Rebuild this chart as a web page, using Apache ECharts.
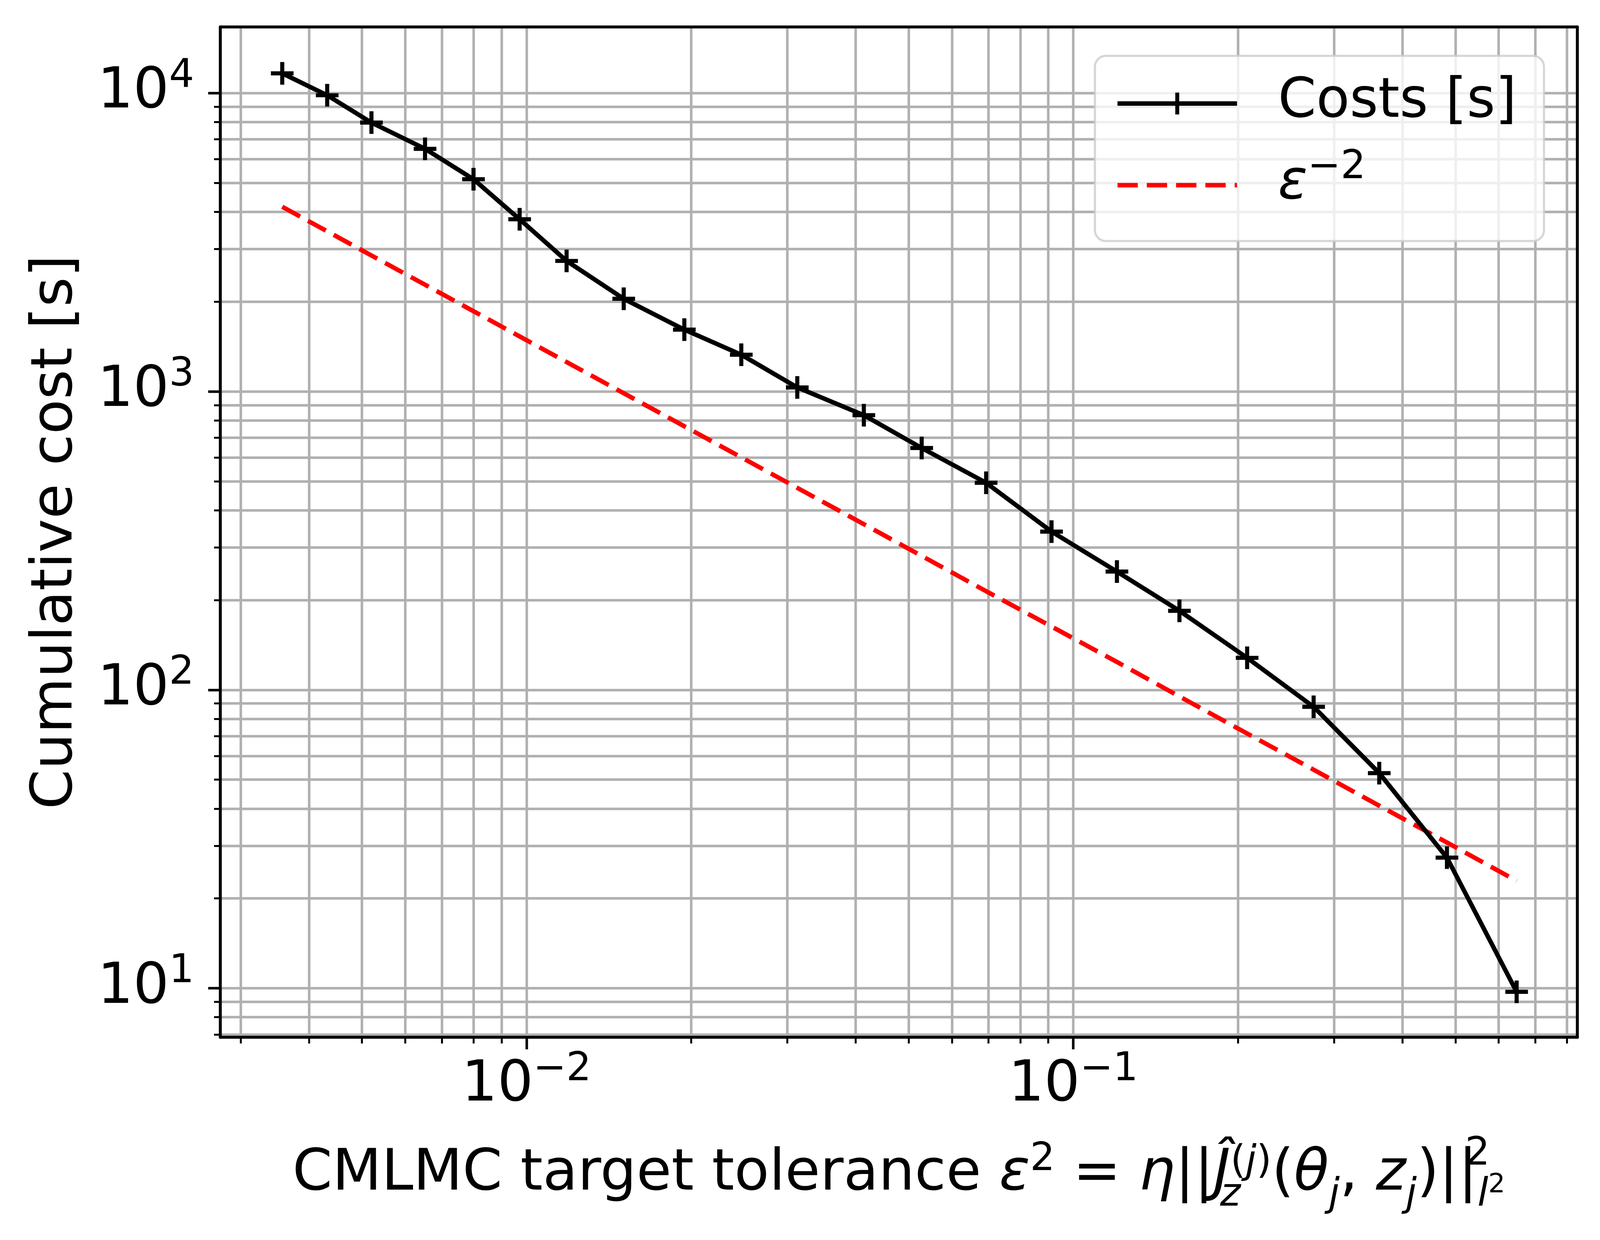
<!DOCTYPE html>
<html>
<head>
<meta charset="utf-8">
<script src="https://cdn.jsdelivr.net/npm/echarts@6/dist/echarts.min.js"></script>
<style>
html, body { margin: 0; padding: 0; background: #fff; }
#chart { width: 4108px; height: 3174px; }
</style>
</head>
<body>
<div id="chart"></div>
<script>
// values (log-log plot)
var tolerance = [0.003575, 0.004320, 0.005205, 0.006523, 0.008000, 0.009716, 0.01184, 0.01506,
    0.01944, 0.02471, 0.03128, 0.04140, 0.05282, 0.06929, 0.09126, 0.1202, 0.1564, 0.2080,
    0.2752, 0.3628, 0.4825, 0.6471];
var costs = [11630, 9820, 7953, 6497, 5137, 3772, 2736, 2043, 1610, 1327, 1031, 832, 646, 494,
    339, 249, 184, 128, 87.7, 52.6, 27.4, 9.73];
var epsRef = [4154, 3438, 2853, 2277, 1856, 1528, 1254, 986, 764, 601, 475, 359, 281, 214,
    163, 124, 95.0, 71.4, 54.0, 40.9, 30.8, 22.9];

// tick positions
var xMajor = [0.01, 0.1];
var xMinor = [0.003, 0.004, 0.005, 0.006, 0.007, 0.008, 0.009,
    0.02, 0.03, 0.04, 0.05, 0.06, 0.07, 0.08, 0.09,
    0.2, 0.3, 0.4, 0.5, 0.6, 0.7, 0.8];
var yMajor = [10, 100, 1000, 10000];
var yMinor = [7, 8, 9, 20, 30, 40, 50, 60, 70, 80, 90, 200, 300, 400, 500, 600, 700, 800, 900,
    2000, 3000, 4000, 5000, 6000, 7000, 8000, 9000];

var FONT = 'DejaVu Sans';
var GRID_COLOR = '#b0b0b0';
var plusPath = 'path://M41,0H59V41H100V59H59V100H41V59H0V41H41Z';

function lg(v) { return Math.log10(v); }
function pairs(xs, ys) {
    return xs.map(function (x, i) { return [lg(x), lg(ys[i])]; });
}
function powLabel(v) {
    var e = Math.round(v);
    return '{b|10}{s|' + (e < 0 ? '\u2212' : '') + Math.abs(e) + '}';
}

var tickRich = {
    b: { fontSize: 144, lineHeight: 144, fontFamily: FONT, color: '#000', verticalAlign: 'bottom' },
    s: { fontSize: 101, lineHeight: 101, fontFamily: FONT, color: '#000', verticalAlign: 'bottom', padding: [0, 0, 63, 0] }
};

var nameBase = { fontFamily: FONT, color: '#000', verticalAlign: 'bottom' };
function tok(extra) { return Object.assign({}, nameBase, extra); }
var nameRich = {
    n: tok({ fontSize: 146, lineHeight: 146, padding: [0, 0, 30, 0] }),
    i: tok({ fontSize: 146, lineHeight: 146, padding: [0, 0, 30, 0], fontStyle: 'italic' }),
    sp: tok({ fontSize: 100, lineHeight: 100, padding: [0, 0, 91, 0] }),
    spjp: tok({ fontSize: 100, lineHeight: 100, padding: [0, 0, 84, 0] }),
    spji: tok({ fontSize: 100, lineHeight: 100, padding: [0, 0, 84, 0], fontStyle: 'italic' }),
    sbz: tok({ fontSize: 100, lineHeight: 100, padding: [0, 0, 0, 0], fontStyle: 'italic', width: 0 }),
    sbi: tok({ fontSize: 100, lineHeight: 100, padding: [0, 0, 0, 0], fontStyle: 'italic' }),
    sp2: tok({ fontSize: 100, lineHeight: 100, padding: [0, 0, 105, 0], width: 0 }),
    sps: tok({ fontSize: 68, lineHeight: 68, padding: [0, 0, 42, 0] })
};
var xName = '{n|CMLMC target tolerance }{i|\u03b5}{sp|2}{n| = }{i|\u03b7}{n|||}{i|\u0134}' +
    '{sbz|z}{spjp|(}{spji|j}{spjp|)}{n|(}{i|\u03b8}{sbi|j}{n|, }{i|z}{sbi|j}{n|)||}{sp2|2}{sbi|l}{sps|2}';

var legendRich = {
    t: { fontSize: 140, lineHeight: 200, fontFamily: FONT, color: '#000', verticalAlign: 'bottom', padding: [0, 0, 32, 0] },
    e: { fontSize: 140, lineHeight: 200, fontFamily: FONT, fontStyle: 'italic', color: '#000', verticalAlign: 'bottom', padding: [0, 0, 32, 0] },
    s: { fontSize: 101, lineHeight: 200, fontFamily: FONT, color: '#000', verticalAlign: 'bottom', padding: [0, 0, 94, 0] }
};

var chart = echarts.init(document.getElementById('chart'), null, { renderer: 'canvas' });

var xRange = { min: -2.560, max: -0.078 };
var yRange = { min: 0.836, max: 4.221 };

var option = {
    animation: false,
    backgroundColor: '#fff',
    grid: { left: 564, right: 70, top: 69, bottom: 519, containLabel: false },
    legend: {
        orient: 'vertical',
        left: 2803,
        top: 143,
        itemWidth: 306,
        itemHeight: 70,
        itemGap: 14,
        padding: [50, 70, 43, 52],
        backgroundColor: 'rgba(255,255,255,0.8)',
        borderColor: 'rgba(204,204,204,0.8)',
        borderWidth: 5.5,
        borderRadius: 28,
        lineStyle: { width: 'inherit' },
        data: ['Costs [s]', { name: 'eps', itemStyle: { opacity: 0 } }],
        formatter: function (name) {
            return name === 'eps' ? '{e|\u03b5}{s|\u22122}' : '{t|' + name + '}';
        },
        textStyle: {
            fontSize: 140,
            fontFamily: FONT,
            color: '#000',
            padding: [0, 0, 0, 100],
            rich: legendRich
        }
    },
    xAxis: [
        {
            type: 'value', min: xRange.min, max: xRange.max, position: 'bottom',
            name: xName, nameLocation: 'middle', nameGap: 309,
            nameTextStyle: { rich: nameRich },
            axisLine: { show: true, lineStyle: { color: '#000', width: 7.5 } },
            axisTick: { show: true, customValues: xMajor.map(lg), length: 31, lineStyle: { color: '#000', width: 6.5 } },
            axisLabel: { show: true, customValues: xMajor.map(lg), margin: 53, formatter: powLabel, rich: tickRich },
            splitLine: { show: true, lineStyle: { color: GRID_COLOR, width: 6.5 } }
        },
        {
            type: 'value', min: xRange.min, max: xRange.max, position: 'bottom',
            axisLine: { show: false },
            axisTick: { show: true, customValues: xMinor.map(lg), length: 16, lineStyle: { color: '#000', width: 5 } },
            axisLabel: { show: false, customValues: xMinor.map(lg) },
            splitLine: { show: true, lineStyle: { color: GRID_COLOR, width: 6.5 } }
        },
        {
            type: 'value', min: xRange.min, max: xRange.max, position: 'top',
            axisLine: { show: true, lineStyle: { color: '#000', width: 7.5 } },
            axisTick: { show: false }, axisLabel: { show: false }, splitLine: { show: false }
        }
    ],
    yAxis: [
        {
            type: 'value', min: yRange.min, max: yRange.max, position: 'left',
            name: 'Cumulative cost [s]', nameLocation: 'middle', nameGap: 346,
            nameTextStyle: { fontSize: 146, fontFamily: FONT, color: '#000' },
            axisLine: { show: true, lineStyle: { color: '#000', width: 7.5 } },
            axisTick: { show: true, customValues: yMajor.map(lg), length: 31, lineStyle: { color: '#000', width: 6.5 } },
            axisLabel: { show: true, customValues: yMajor.map(lg), margin: 67, formatter: powLabel, rich: tickRich },
            splitLine: { show: true, lineStyle: { color: GRID_COLOR, width: 6.5 } }
        },
        {
            type: 'value', min: yRange.min, max: yRange.max, position: 'left',
            axisLine: { show: false },
            axisTick: { show: true, customValues: yMinor.map(lg), length: 16, lineStyle: { color: '#000', width: 5 } },
            axisLabel: { show: false, customValues: yMinor.map(lg) },
            splitLine: { show: true, lineStyle: { color: GRID_COLOR, width: 6.5 } }
        },
        {
            type: 'value', min: yRange.min, max: yRange.max, position: 'right',
            axisLine: { show: true, lineStyle: { color: '#000', width: 7.5 } },
            axisTick: { show: false }, axisLabel: { show: false }, splitLine: { show: false }
        }
    ],
    series: [
        {
            name: 'Costs [s]',
            type: 'line',
            data: pairs(tolerance, costs),
            symbol: plusPath,
            symbolSize: 58,
            showAllSymbol: true,
            itemStyle: { color: '#000' },
            lineStyle: { color: '#000', width: 11.5 },
            z: 4
        },
        {
            name: 'eps',
            type: 'line',
            data: pairs(tolerance, epsRef),
            symbol: 'none',
            itemStyle: { color: '#ff0000' },
            lineStyle: { color: '#ff0000', width: 11.5, type: [52, 23] },
            z: 3
        }
    ]
};

chart.setOption(option);
</script>
</body>
</html>
